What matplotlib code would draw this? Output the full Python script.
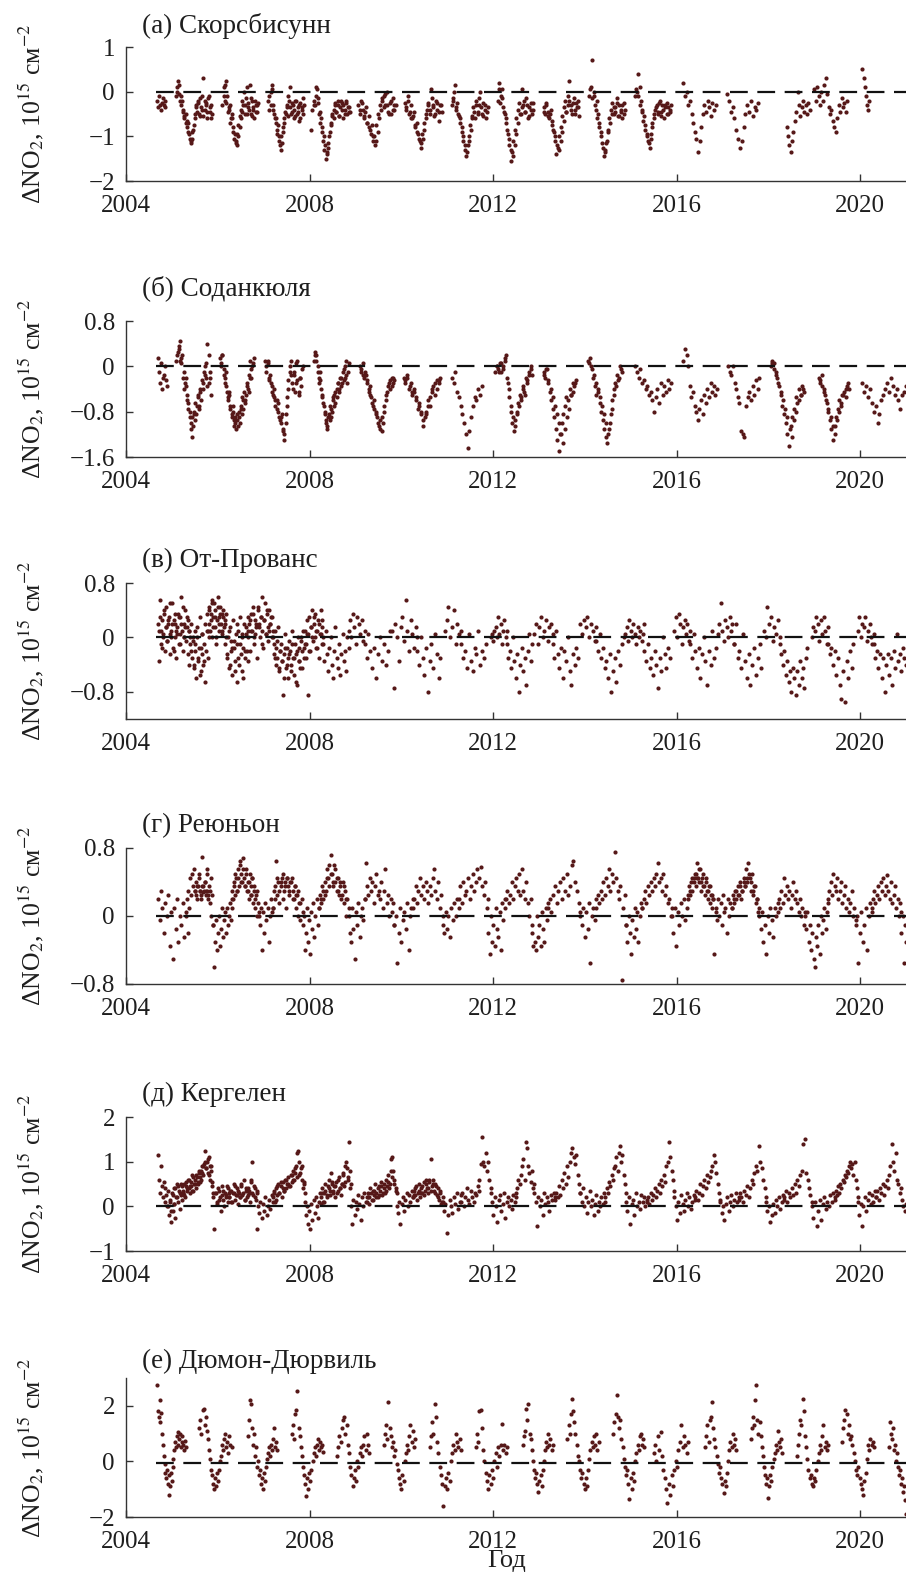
import numpy as np
import matplotlib
matplotlib.use('Agg')
import matplotlib.pyplot as plt

plt.rcParams['font.family'] = ['Liberation Serif', 'DejaVu Serif']
plt.rcParams['mathtext.fontset'] = 'stix'

# каждая станция: сезоны наблюдений (начало, конец) и значения внутри сезона
# (сезоны могут перекрываться - так передаётся плотность облака точек)

# (а) Скорсбисунн
sco_start = [2004.68, 2005.08, 2006.1, 2007.1, 2008.03, 2009.06, 2010.08, 2011.1, 2012.1,
             2013.1, 2014.1, 2015.1, 2016.15, 2017.1, 2018.4, 2019.0, 2020.05,
             2005.12, 2006.13, 2007.12, 2008.1, 2009.1, 2010.1, 2011.12, 2012.12, 2013.12,
             2014.12, 2015.12]
sco_end = [2004.86, 2005.88, 2006.88, 2007.88, 2008.88, 2009.88, 2010.88, 2011.88, 2012.88,
           2013.88, 2014.88, 2015.88, 2016.85, 2017.78, 2018.9, 2019.72, 2020.2,
           2005.86, 2006.86, 2007.86, 2008.86, 2009.85, 2010.86, 2011.86, 2012.86, 2013.86,
           2014.86, 2015.86]
sco_vals = [
    [-0.2, -0.35, -0.1, -0.3, -0.4, -0.25, -0.15, -0.3, -0.35, -0.2],
    [-0.1, 0.1, 0.25, -0.05, -0.3, -0.2, -0.45, -0.6, -0.5, -0.8, -0.7, -0.95, -1.15, -1.05, -0.85, -0.6,
     -0.3, -0.45, -0.2, -0.55, -0.35, -0.1, 0.3, -0.4, -0.25, -0.6, -0.15, -0.45, -0.3, -0.5],
    [-0.3, 0.1, -0.2, 0.25, -0.1, -0.4, -0.3, -0.6, -0.5, -0.8, -0.95, -1.1, -1.2, -1.0, -0.8, -0.6,
     -0.45, -0.3, -0.5, -0.15, 0.1, -0.35, 0.15, -0.5, -0.2, -0.4, -0.6, -0.3, -0.45, -0.25],
    [-0.2, -0.4, 0.0, 0.15, -0.3, -0.5, -0.6, -0.85, -0.75, -1.0, -1.3, -1.15, -0.9, -0.7, -0.5, -0.35,
     -0.55, -0.2, 0.1, -0.45, -0.3, -0.6, -0.2, -0.5, -0.35, -0.65, -0.25, -0.4, -0.5, -0.3],
    [-0.85, -0.4, -0.2, -0.3, 0.1, -0.15, -0.5, -0.7, -0.9, -1.1, -1.3, -1.5, -1.35, -1.15, -0.9, -0.7,
     -0.5, -0.6, -0.3, -0.45, -0.2, -0.55, -0.35, -0.25, -0.6, -0.4, -0.2, -0.5, -0.35, -0.45],
    [-0.3, -0.5, -0.2, -0.4, -0.6, -0.35, -0.7, -0.55, -0.85, -0.75, -1.0, -1.2, -1.1, -0.9, -0.6, -0.4,
     -0.2, -0.1, -0.3, 0.0, -0.45, -0.25, -0.5, -0.15, -0.4, -0.3],
    [-0.25, -0.4, -0.1, -0.5, -0.3, -0.6, -0.45, -0.8, -0.7, -0.95, -1.1, -1.25, -1.05, -0.85, -0.6, -0.4,
     -0.25, -0.5, 0.05, -0.3, -0.55, -0.2, -0.4, -0.65, -0.3, -0.45],
    [-0.3, -0.15, 0.15, -0.4, -0.25, -0.55, -0.7, -0.9, -1.1, -1.3, -1.45, -1.2, -1.0, -0.75, -0.55, -0.35,
     -0.6, -0.2, -0.45, -0.3, 0.0, -0.5, -0.25, -0.4, -0.6, -0.35],
    [-0.2, 0.2, -0.1, 0.05, -0.35, -0.5, -0.7, -0.95, -1.2, -1.55, -1.35, -1.1, -0.85, -0.6, -0.4, -0.25,
     -0.5, 0.05, -0.3, -0.45, -0.15, -0.6, -0.35, -0.25, -0.5, -0.4],
    [-0.35, -0.5, -0.25, -0.45, -0.6, -0.4, -0.75, -0.9, -1.1, -1.4, -1.25, -1.0, -0.8, -0.55, -0.35, -0.2,
     -0.45, -0.1, 0.25, -0.3, -0.5, -0.15, -0.4, -0.25, -0.35, -0.55],
    [-0.1, 0.1, 0.72, 0.0, -0.3, -0.2, -0.5, -0.7, -0.9, -1.15, -1.45, -1.3, -1.1, -0.85, -0.6, -0.4,
     -0.25, -0.5, -0.35, -0.15, -0.55, -0.3, -0.45, -0.6, -0.25, -0.4],
    [-0.1, 0.0, 0.4, 0.1, -0.2, -0.4, -0.55, -0.75, -0.95, -1.1, -1.25, -1.05, -0.8, -0.6, -0.4, -0.3,
     -0.5, -0.2, -0.45, -0.3, -0.6, -0.35, -0.25, -0.5, -0.4, -0.3],
    [0.2, -0.1, 0.0, -0.3, -0.2, -0.5, -0.7, -0.9, -1.05, -1.35, -1.1, -0.8, -0.5, -0.3, -0.45, -0.2,
     -0.35, -0.55, -0.25, -0.4, -0.3],
    [-0.05, -0.2, -0.45, -0.35, -0.6, -0.85, -1.05, -1.25, -1.1, -0.8, -0.5, -0.3, -0.45, -0.2, -0.55,
     -0.35, -0.4, -0.25],
    [-0.8, -1.0, -1.2, -1.35, -1.1, -0.9, -0.65, -0.45, 0.0, -0.3, -0.55, -0.35, -0.2, -0.45, -0.3, -0.5,
     -0.25, -0.4],
    [0.05, -0.2, 0.1, -0.1, -0.3, 0.0, -0.2, 0.15, 0.3, -0.05, -0.35, -0.5, -0.4, -0.65, -0.8, -0.9,
     -0.6, -0.3, -0.45, -0.15, -0.35, -0.25, -0.45, -0.2],
    [0.5, 0.3, 0.1, -0.1, -0.3, -0.4, -0.2],
    [0.0, 0.15, -0.2, -0.1, -0.4, -0.55, -0.7, -0.65, -0.9, -1.05, -1.1, -0.9, -0.75, -0.5, -0.35, -0.25,
     -0.5, -0.15, -0.4, -0.55, -0.2, -0.3, -0.45, -0.1, -0.35, -0.6],
    [-0.1, 0.15, -0.25, -0.45, -0.35, -0.7, -0.6, -0.9, -1.05, -1.15, -0.95, -0.75, -0.55, -0.4, -0.2, 0.0,
     -0.3, -0.5, -0.25, -0.4, -0.15, -0.55, -0.35, -0.2, -0.45, -0.3],
    [-0.1, -0.3, 0.05, -0.4, -0.6, -0.7, -0.95, -1.1, -1.2, -1.0, -0.8, -0.6, -0.45, -0.3, -0.1, -0.35,
     -0.5, -0.25, -0.4, -0.55, -0.2, -0.45, -0.3, -0.6, -0.35, -0.15],
    [-0.3, -0.1, 0.05, -0.25, -0.45, -0.6, -0.8, -1.0, -1.2, -1.4, -1.25, -1.0, -0.75, -0.55, -0.4, -0.25,
     -0.45, -0.3, -0.55, -0.2, -0.4, -0.3, -0.5, -0.25, -0.35, -0.45],
    [-0.4, -0.25, -0.55, -0.45, -0.7, -0.8, -0.95, -1.1, -1.0, -0.75, -0.5, -0.3, -0.15, -0.35, -0.05,
     -0.3, -0.5, -0.2, -0.4, -0.3],
    [-0.35, -0.2, -0.45, -0.6, -0.55, -0.75, -0.9, -1.05, -1.15, -0.95, -0.7, -0.5, -0.3, -0.4, -0.15,
     -0.35, -0.5, -0.25, -0.45, -0.3],
    [-0.2, 0.0, -0.35, -0.5, -0.6, -0.8, -1.0, -1.2, -1.35, -1.1, -0.85, -0.6, -0.45, -0.3, -0.5, -0.15,
     -0.35, -0.55, -0.3, -0.45],
    [0.05, -0.25, -0.15, -0.45, -0.6, -0.85, -1.05, -1.3, -1.45, -1.2, -0.95, -0.7, -0.5, -0.35, -0.2,
     -0.45, -0.3, -0.55, -0.4, -0.25],
    [-0.45, -0.3, -0.55, -0.5, -0.65, -0.85, -1.0, -1.2, -1.3, -1.1, -0.9, -0.65, -0.45, -0.3, -0.2, -0.4,
     -0.25, -0.5, -0.35, -0.2],
    [0.05, -0.15, -0.1, -0.4, -0.6, -0.8, -1.0, -1.25, -1.35, -1.15, -0.9, -0.7, -0.5, -0.35, -0.45,
     -0.25, -0.55, -0.4, -0.3, -0.5],
    [0.05, -0.1, -0.3, -0.45, -0.65, -0.85, -1.0, -1.15, -0.95, -0.7, -0.5, -0.35, -0.45, -0.25, -0.55,
     -0.4, -0.3, -0.5, -0.35, -0.45],
]

# (б) Соданкюля
sod_start = [2004.7, 2005.1, 2006.05, 2007.03, 2008.1, 2009.1, 2010.05, 2011.1, 2012.05,
             2013.1, 2014.08, 2015.1, 2016.15, 2017.12, 2018.05, 2019.1, 2020.05,
             2005.12, 2006.07, 2007.06, 2008.12, 2009.12, 2010.08, 2012.08, 2013.12, 2014.1,
             2018.07, 2019.12]
sod_end = [2004.9, 2005.85, 2006.78, 2007.85, 2008.85, 2009.85, 2010.85, 2011.75, 2012.85,
           2013.8, 2014.8, 2015.88, 2016.88, 2017.8, 2018.78, 2019.75, 2021.0,
           2005.83, 2006.76, 2007.83, 2008.83, 2009.83, 2010.83, 2012.83, 2013.78, 2014.78,
           2018.76, 2019.73]
sod_vals = [
    [0.15, -0.1, -0.3, 0.05, -0.4, -0.2, -0.15, 0.0, -0.25, -0.35],
    [0.1, 0.25, 0.3, 0.45, 0.15, 0.2, -0.1, -0.3, -0.2, -0.5, -0.65, -0.8, -1.0, -1.25, -1.05, -0.85,
     -0.95, -0.7, -0.55, -0.75, -0.4, -0.6, -0.3, -0.1, 0.0, -0.2, 0.4, -0.3, -0.1, -0.5],
    [0.15, 0.0, 0.2, -0.15, -0.3, -0.1, -0.45, -0.6, -0.5, -0.75, -0.9, -0.8, -1.05, -0.9, -1.1, -0.95,
     -0.8, -1.0, -0.7, -0.55, -0.75, -0.45, -0.6, -0.3, -0.4, -0.15, 0.1, -0.2, 0.0, 0.15],
    [0.1, -0.1, 0.05, -0.25, -0.15, -0.35, -0.5, -0.4, -0.6, -0.75, -0.65, -0.9, -1.0, -0.85, -1.15, -1.3,
     -1.0, -0.7, -0.4, -0.1, 0.1, -0.3, -0.15, -0.45, 0.05, -0.25, -0.5, -0.2, -0.35, 0.0],
    [0.1, 0.25, 0.2, 0.0, -0.2, -0.1, -0.4, -0.55, -0.7, -0.85, -1.0, -1.1, -0.9, -0.95, -0.75, -0.8,
     -0.6, -0.5, -0.65, -0.4, -0.3, -0.45, -0.2, -0.35, -0.1, -0.25, 0.0, -0.15, -0.3, 0.05],
    [0.0, -0.1, 0.05, -0.2, -0.15, -0.3, -0.45, -0.35, -0.55, -0.7, -0.6, -0.8, -0.9, -1.05, -0.95, -1.15,
     -1.0, -0.8, -0.6, -0.45, -0.3, -0.4, -0.2, -0.3, -0.25],
    [-0.2, -0.3, -0.15, -0.4, -0.3, -0.5, -0.45, -0.6, -0.75, -0.65, -0.85, -1.05, -0.9, -0.8, -0.6, -0.7,
     -0.45, -0.35, -0.5, -0.25, -0.3, -0.2],
    [-0.2, -0.3, -0.1, -0.45, -0.55, -0.7, -0.85, -1.0, -1.2, -1.45, -1.15, -0.9, -0.7, -0.55, -0.6, -0.4,
     -0.5, -0.35],
    [-0.1, 0.0, -0.05, 0.05, -0.1, 0.0, 0.1, 0.2, -0.3, -0.55, -0.8, -1.0, -1.15, -0.95, -0.8, -0.65,
     -0.5, -0.6, -0.35, -0.45, -0.2, -0.3, -0.1, 0.0, -0.15],
    [-0.1, -0.2, -0.05, -0.3, -0.45, -0.6, -0.75, -0.9, -1.1, -1.3, -1.5, -1.2, -1.0, -0.85, -0.7, -0.55,
     -0.6, -0.4, -0.5, -0.3, -0.35, -0.25],
    [0.1, 0.15, -0.05, -0.2, -0.35, -0.5, -0.45, -0.65, -0.8, -0.95, -1.1, -1.25, -1.35, -1.1, -0.85, -0.6,
     -0.4, -0.3, -0.15, -0.25, 0.0, -0.1],
    [0.0, -0.1, -0.2, -0.05, -0.3, -0.25, -0.4, -0.35, -0.5, -0.45, -0.6, -0.8, -0.55, -0.4, -0.65, -0.3,
     -0.5, -0.35, -0.45, -0.25, -0.4, -0.3],
    [0.1, 0.3, 0.2, 0.0, -0.35, -0.55, -0.45, -0.7, -0.8, -0.95, -0.75, -0.6, -0.85, -0.5, -0.65, -0.4,
     -0.55, -0.3, -0.45, -0.35, -0.5, -0.4],
    [0.0, -0.1, -0.15, 0.0, -0.3, -0.4, -0.55, -0.65, -1.15, -1.2, -1.25, -0.7, -0.55, -0.45, -0.6, -0.35,
     -0.5, -0.25, -0.4, -0.2],
    [0.0, 0.1, 0.05, -0.1, -0.2, -0.35, -0.5, -0.7, -0.85, -1.0, -1.2, -1.4, -1.05, -0.9, -0.75, -0.55,
     -0.65, -0.4, -0.5, -0.35, -0.45],
    [-0.2, -0.3, -0.15, -0.4, -0.5, -0.65, -0.8, -0.95, -1.1, -1.3, -1.05, -0.9, -0.75, -0.6, -0.7, -0.5,
     -0.45, -0.55, -0.35, -0.4],
    [-0.3, -0.45, -0.35, -0.55, -0.4, -0.65, -0.8, -0.7, -1.0, -0.85, -0.6, -0.5, -0.4, -0.3, -0.45, -0.2,
     -0.35, -0.5, -0.4, -0.6, -0.75, -0.5, -0.45, -0.35],
    [0.2, 0.35, 0.1, 0.05, -0.2, -0.4, -0.35, -0.6, -0.75, -0.9, -1.1, -0.9, -0.8, -0.65, -0.85, -0.5,
     -0.7, -0.45, -0.25, -0.4, -0.15, 0.05, -0.35, 0.2, -0.2],
    [0.05, 0.2, -0.05, -0.2, -0.35, -0.55, -0.45, -0.7, -0.85, -0.7, -0.95, -1.0, -0.85, -1.05, -0.9, -0.75,
     -0.85, -0.6, -0.65, -0.5, -0.35, -0.45, -0.2, -0.05, 0.05],
    [0.0, 0.1, -0.2, -0.3, -0.45, -0.55, -0.7, -0.6, -0.8, -0.95, -0.9, -1.1, -1.2, -0.85, -0.55, -0.25,
     0.0, -0.15, -0.4, -0.1, -0.3, 0.1, -0.45, -0.2, -0.05],
    [0.2, 0.1, -0.1, -0.3, -0.25, -0.5, -0.65, -0.8, -0.95, -1.05, -0.85, -0.7, -0.9, -0.55, -0.7, -0.45,
     -0.55, -0.3, -0.4, -0.2, -0.3, -0.05, -0.2, 0.1, -0.1],
    [-0.05, -0.15, -0.1, -0.25, -0.4, -0.5, -0.65, -0.75, -0.85, -1.0, -1.1, -0.9, -0.7, -0.5, -0.35,
     -0.25, -0.35, -0.2],
    [-0.25, -0.2, -0.35, -0.45, -0.4, -0.55, -0.7, -0.8, -0.95, -0.85, -0.7, -0.55, -0.4, -0.3, -0.4, -0.25],
    [0.0, -0.1, 0.05, -0.05, 0.15, -0.2, -0.4, -0.7, -0.9, -1.05, -0.85, -0.7, -0.55, -0.4, -0.5, -0.25,
     -0.15, -0.05],
    [-0.15, -0.05, -0.25, -0.4, -0.55, -0.7, -0.85, -1.0, -1.2, -1.35, -1.1, -0.9, -0.75, -0.5, -0.45, -0.3],
    [0.05, 0.0, -0.15, -0.3, -0.4, -0.55, -0.7, -0.85, -1.0, -1.2, -1.0, -0.75, -0.5, -0.35, -0.2, -0.05],
    [0.05, -0.05, -0.15, -0.3, -0.45, -0.6, -0.75, -0.9, -1.1, -1.25, -0.95, -0.8, -0.6, -0.5, -0.4],
    [-0.25, -0.35, -0.45, -0.6, -0.75, -0.9, -1.05, -1.2, -0.95, -0.8, -0.65, -0.5, -0.4, -0.3],
]

# (в) От-Прованс
ohp_start = [2004.7, 2005.4, 2005.8, 2006.15, 2006.65, 2007.2, 2007.9, 2008.3, 2008.85, 2009.2, 2009.8,
             2010.35, 2010.95, 2011.3, 2011.95, 2012.3, 2012.9, 2013.3, 2013.9, 2014.25, 2014.85, 2015.3,
             2015.95, 2016.3, 2016.9, 2017.25, 2017.9, 2018.25, 2018.95, 2019.3, 2019.95, 2020.3,
             2004.72, 2005.42, 2006.17, 2007.22]
ohp_end = [2005.4, 2005.8, 2006.15, 2006.65, 2007.2, 2007.9, 2008.3, 2008.85, 2009.2, 2009.75, 2010.35,
           2010.85, 2011.3, 2011.85, 2012.3, 2012.85, 2013.3, 2013.85, 2014.25, 2014.8, 2015.3, 2015.85,
           2016.3, 2016.85, 2017.25, 2017.85, 2018.25, 2018.85, 2019.3, 2019.85, 2020.3, 2021.0,
           2005.38, 2006.12, 2007.18, 2008.28]
ohp_vals = [
    [0.2, -0.35, 0.55, 0.1, -0.1, 0.25, 0.0, 0.35, -0.2, 0.15, 0.45, -0.05, 0.2, 0.3, -0.25, 0.05, 0.1,
     0.5, -0.15, 0.25, 0.0, 0.2, -0.3, 0.15, 0.35, -0.1, 0.05, 0.3, 0.6, 0.1, -0.2, 0.2, 0.0, 0.4, -0.05,
     0.15, 0.25, -0.4, 0.1, 0.0],
    [-0.1, 0.2, -0.3, -0.05, -0.45, 0.1, -0.2, -0.6, 0.0, -0.35, -0.15, 0.3, -0.5, -0.25, 0.05, -0.4,
     -0.1, -0.65, -0.2, 0.1, -0.3, 0.0],
    [0.2, 0.45, 0.1, 0.35, 0.55, 0.0, 0.3, 0.5, 0.15, 0.4, -0.1, 0.25, 0.6, 0.3, 0.1, 0.45, 0.2, 0.35,
     0.05, 0.4, 0.15, 0.25],
    [0.2, -0.1, 0.35, -0.3, 0.0, -0.45, 0.15, -0.2, -0.05, -0.55, 0.25, -0.15, -0.35, 0.05, -0.65, -0.1,
     0.1, -0.4, 0.3, -0.25, 0.0, -0.5, -0.15, 0.2, -0.3, 0.05, -0.2, 0.1],
    [0.3, 0.0, 0.2, -0.2, 0.35, 0.1, 0.45, -0.1, 0.25, 0.05, 0.15, -0.3, 0.4, 0.2, 0.0, 0.3, 0.6, 0.1,
     -0.15, 0.25, 0.5, 0.05, 0.35, 0.15, -0.05, 0.4, 0.2, 0.3, 0.0, 0.1],
    [0.0, -0.25, 0.1, -0.4, -0.15, -0.3, 0.15, -0.5, -0.2, -0.1, -0.35, -0.85, -0.25, 0.05, -0.45, -0.15,
     -0.3, -0.6, -0.05, -0.2, -0.4, 0.1, -0.3, -0.55, -0.1, -0.25, -0.7, 0.0, -0.35, -0.15, -0.45, -0.05,
     -0.2, 0.1, -0.3, -0.1],
    [0.1, -0.1, 0.25, -0.85, 0.05, 0.3, -0.2, 0.15, 0.4, -0.05, 0.2, 0.0, 0.35, -0.15, 0.1, 0.25, -0.3,
     0.05, 0.4, 0.15, -0.1, 0.0],
    [-0.1, -0.35, 0.1, -0.25, -0.5, -0.15, 0.0, -0.4, -0.6, -0.2, 0.15, -0.3, -0.45, -0.1, -0.55, -0.25,
     0.05, -0.35, -0.2, -0.5, 0.0, -0.15],
    [0.1, 0.25, 0.0, 0.35, 0.15, -0.1, 0.3, 0.2, 0.05, 0.25, -0.05, 0.1],
    [-0.1, -0.3, 0.05, -0.2, -0.45, -0.15, -0.6, -0.25, 0.0, -0.35, -0.1, -0.4, -0.2, 0.1],
    [0.1, -0.75, 0.2, 0.0, -0.35, 0.15, 0.3, -0.05, 0.55, 0.1, -0.2, 0.25, 0.05, -0.15, 0.15, 0.0],
    [-0.2, -0.4, 0.0, -0.3, -0.55, -0.15, -0.8, -0.35, -0.1, -0.45, 0.05, -0.25, -0.6, -0.3],
    [0.1, 0.25, 0.45, 0.0, 0.15, 0.4, -0.1, 0.2, 0.05, 0.1],
    [-0.1, -0.3, -0.2, -0.45, 0.05, -0.35, -0.5, -0.15, -0.25, 0.1, -0.4, -0.2, -0.3, -0.1],
    [0.0, 0.05, -0.05, 0.1, 0.15, 0.0, 0.3, 0.05, 0.2, -0.1, 0.1, 0.25, 0.0, 0.1],
    [-0.1, -0.3, -0.2, -0.45, 0.0, -0.35, -0.6, -0.25, -0.8, -0.4, -0.15, -0.5, -0.3, -0.7, -0.2, 0.05,
     -0.35, -0.1],
    [0.05, 0.2, -0.1, 0.15, 0.3, 0.0, 0.1, 0.25, -0.05, 0.15, 0.2, 0.05],
    [-0.1, -0.3, 0.1, -0.25, -0.45, -0.15, -0.6, -0.2, -0.35, 0.0, -0.5, -0.7, -0.25, -0.4, -0.15, -0.3],
    [0.2, 0.05, 0.25, 0.15, 0.3, 0.0, 0.2, 0.1, -0.05, 0.15],
    [-0.05, -0.2, 0.05, -0.3, -0.15, -0.45, -0.35, -0.6, -0.25, -0.8, -0.5, -0.3, -0.65, -0.2, -0.4, -0.1],
    [0.0, 0.05, 0.15, -0.05, 0.25, 0.1, 0.0, 0.2, 0.05, -0.1, 0.15, 0.0, 0.1, -0.05, 0.05, 0.2],
    [-0.2, -0.35, -0.1, -0.45, -0.3, -0.55, -0.2, -0.4, -0.75, -0.3, -0.5, 0.0, -0.25, -0.45, -0.15, -0.3],
    [0.1, 0.3, 0.0, 0.35, 0.2, -0.1, 0.15, 0.25, 0.05, 0.2, -0.05, 0.1],
    [-0.1, -0.3, 0.05, -0.2, -0.45, -0.15, -0.6, -0.25, 0.0, -0.35, -0.7, -0.2, -0.4, 0.1, -0.3, -0.15],
    [0.05, 0.2, 0.5, 0.1, -0.05, 0.25, 0.15, 0.0, 0.3, 0.1, 0.2, -0.1],
    [-0.1, 0.2, -0.3, -0.2, -0.45, 0.05, -0.35, -0.6, -0.25, -0.7, -0.4, -0.15, -0.55, -0.3, -0.1, -0.45],
    [0.1, 0.0, 0.45, 0.2, 0.3, -0.05, 0.15, 0.05, 0.25, 0.0],
    [-0.1, -0.25, -0.4, -0.2, -0.55, -0.35, -0.65, -0.5, -0.8, -0.45, -0.6, -0.85, -0.5, -0.7, -0.35,
     -0.6, -0.45, -0.75, -0.3, -0.15],
    [0.0, 0.15, 0.1, 0.3, 0.2, -0.05, 0.25, 0.05, 0.3, 0.1, -0.1, 0.15],
    [-0.1, -0.25, -0.15, -0.4, -0.2, -0.55, -0.3, -0.7, -0.9, -0.5, -0.95, -0.35, -0.6, -0.2, -0.45, -0.1],
    [0.1, 0.3, 0.0, 0.2, 0.15, 0.3, -0.05, 0.1, 0.2, 0.0, -0.1, 0.05],
    [-0.1, -0.3, -0.2, -0.45, -0.25, -0.6, -0.3, -0.8, -0.4, -0.25, -0.55, -0.3, -0.7, -0.2, -0.45, 0.05,
     -0.35, -0.25, -0.5, -0.15, -0.3, -0.4],
    [0.1, 0.3, -0.15, 0.05, 0.4, 0.15, -0.05, 0.25, 0.5, 0.0, 0.2, -0.2, 0.35, 0.1, 0.05, 0.3, -0.1,
     0.2, 0.45, 0.0, 0.15, 0.3, -0.25, 0.1],
    [-0.2, 0.0, -0.4, -0.1, 0.15, -0.3, -0.55, -0.15, 0.05, -0.35, 0.2, 0.35, 0.1, 0.4, 0.25, 0.5, 0.15,
     0.3, 0.0, 0.45, 0.2, 0.35, 0.1, 0.3],
    [0.0, -0.25, 0.1, -0.4, -0.15, -0.05, -0.5, 0.2, -0.3, -0.1, 0.05, -0.6, -0.2, 0.15, -0.35, 0.25,
     0.1, 0.35, 0.0, 0.2, 0.45, 0.15, 0.3, -0.1, 0.25, 0.05, 0.4, 0.1, 0.2, 0.3],
    [-0.1, -0.3, -0.05, -0.45, -0.2, -0.35, -0.6, -0.15, -0.4, -0.25, -0.5, -0.1, -0.3, -0.65, -0.2,
     -0.35, 0.0, -0.45, -0.15, -0.3, 0.05, -0.2, 0.15, 0.0, 0.3, 0.1, -0.15, 0.2, 0.05, 0.25],
]

# (г) Реюньон
reu_start = [2004.7, 2005.3, 2005.9, 2006.3, 2006.9, 2007.2, 2007.85, 2008.2, 2008.85, 2009.2, 2009.85,
             2010.25, 2010.9, 2011.25, 2011.9, 2012.25, 2012.85, 2013.2, 2013.9, 2014.25, 2014.9, 2015.25,
             2015.9, 2016.25, 2016.85, 2017.2, 2017.8, 2018.2, 2018.8, 2019.3, 2019.9, 2020.25, 2020.9,
             2005.5, 2006.35, 2007.25, 2008.25, 2016.3, 2017.25]
reu_end = [2005.3, 2005.9, 2006.3, 2006.9, 2007.2, 2007.85, 2008.2, 2008.85, 2009.2, 2009.85, 2010.25,
           2010.9, 2011.25, 2011.9, 2012.25, 2012.85, 2013.2, 2013.9, 2014.25, 2014.9, 2015.25, 2015.9,
           2016.25, 2016.85, 2017.2, 2017.8, 2018.2, 2018.8, 2019.3, 2019.9, 2020.25, 2020.9, 2021.0,
           2005.85, 2006.85, 2007.8, 2008.8, 2016.8, 2017.75]
reu_vals = [
    [0.2, -0.05, 0.3, 0.1, -0.2, 0.15, 0.0, 0.25, -0.35, 0.05, -0.5, 0.1, -0.15, 0.2, -0.3, 0.0, -0.1,
     0.15, -0.25, 0.05],
    [0.0, 0.2, -0.2, 0.3, 0.1, 0.45, 0.25, 0.5, 0.35, 0.55, 0.3, 0.4, 0.2, 0.35, 0.45, 0.3, 0.25, 0.7,
     0.35, 0.3, 0.4, 0.25, 0.5, 0.3, 0.2, 0.35, 0.15, 0.0, 0.25, -0.1],
    [-0.1, -0.6, -0.3, -0.05, -0.4, -0.2, 0.0, -0.35, -0.15, 0.1, -0.25, -0.05, 0.05, -0.2, 0.1, -0.1,
     0.0, 0.15, -0.05, 0.2],
    [0.1, 0.3, 0.2, 0.4, 0.25, 0.45, 0.3, 0.55, 0.35, 0.65, 0.5, 0.4, 0.68, 0.45, 0.35, 0.55, 0.3, 0.4,
     0.2, 0.5, 0.35, 0.25, 0.45, 0.15, 0.3, 0.1, 0.25, 0.0, 0.15, 0.05],
    [0.0, -0.1, 0.1, -0.4, 0.05, -0.2, 0.15, -0.05, 0.1, -0.3, 0.0, 0.2, 0.05, 0.1],
    [0.1, 0.3, 0.2, 0.65, 0.25, 0.4, 0.15, 0.35, 0.45, 0.2, 0.3, 0.4, 0.1, 0.45, 0.35, 0.25, 0.4, 0.45,
     0.3, 0.2, 0.35, 0.1, 0.25, 0.0, 0.15, -0.05, 0.2, 0.05],
    [-0.1, 0.0, -0.4, -0.2, 0.1, -0.3, -0.05, -0.45, 0.05, -0.15, 0.15, -0.25, 0.0, 0.2, -0.1, 0.1],
    [0.1, 0.25, 0.15, 0.35, 0.2, 0.4, 0.3, 0.55, 0.45, 0.6, 0.72, 0.5, 0.35, 0.6, 0.4, 0.3, 0.45, 0.25,
     0.35, 0.2, 0.4, 0.15, 0.3, 0.0, 0.2, 0.1],
    [0.0, -0.2, -0.3, 0.1, -0.15, -0.5, 0.05, -0.1, 0.15, -0.25, 0.0, 0.1, -0.05, 0.2],
    [0.2, 0.62, 0.35, 0.25, 0.45, 0.3, 0.4, 0.15, 0.35, 0.5, 0.25, 0.3, 0.2, 0.4, 0.1, 0.3, 0.55, 0.15,
     0.25, 0.0, 0.2, 0.05, 0.15, -0.1],
    [-0.1, 0.0, -0.55, -0.2, 0.1, -0.3, -0.05, 0.05, -0.15, 0.15, -0.4, 0.0, 0.1, 0.2],
    [0.1, 0.2, 0.35, 0.15, 0.3, 0.45, 0.25, 0.35, 0.2, 0.4, 0.3, 0.15, 0.35, 0.25, 0.45, 0.55, 0.3, 0.2,
     0.4, 0.1, 0.25, 0.0],
    [-0.1, -0.2, 0.05, -0.15, 0.0, -0.25, 0.1, -0.05, 0.15, 0.0, 0.2, 0.1],
    [0.2, 0.35, 0.15, 0.4, 0.25, 0.3, 0.45, 0.2, 0.35, 0.5, 0.3, 0.4, 0.55, 0.45, 0.58, 0.35, 0.25, 0.4,
     0.1, 0.2],
    [-0.2, -0.45, 0.0, -0.3, -0.1, -0.35, 0.1, -0.15, -0.25, 0.05, -0.4, 0.15, -0.05, 0.2],
    [0.1, 0.2, 0.3, 0.15, 0.25, 0.4, 0.2, 0.35, 0.45, 0.3, 0.5, 0.25, 0.55, 0.3, 0.2, 0.4, 0.15, 0.0,
     0.2, -0.1],
    [-0.2, -0.35, -0.3, -0.4, 0.0, -0.25, -0.1, -0.35, 0.05, -0.15, -0.3, 0.1, -0.05, 0.15],
    [0.1, 0.2, 0.05, 0.25, 0.35, 0.15, 0.3, 0.4, 0.2, 0.45, 0.3, 0.5, 0.25, 0.35, 0.6, 0.65, 0.4, 0.3,
     0.15, 0.05],
    [0.0, -0.1, 0.1, -0.25, 0.05, -0.15, 0.15, -0.55, 0.0, 0.1, -0.05, 0.2],
    [0.1, 0.25, 0.15, 0.3, 0.2, 0.4, 0.25, 0.45, 0.35, 0.55, 0.3, 0.5, 0.4, 0.75, 0.45, 0.3, 0.2, 0.35,
     -0.75, 0.1, 0.25, -0.1],
    [-0.1, -0.3, 0.0, -0.2, -0.45, -0.05, -0.25, 0.1, -0.15, 0.05, -0.3, 0.0, 0.15, 0.1],
    [0.1, 0.2, 0.3, 0.15, 0.35, 0.25, 0.4, 0.3, 0.45, 0.35, 0.5, 0.62, 0.4, 0.45, 0.3, 0.5, 0.25, 0.35,
     0.15, 0.2, 0.0, 0.1],
    [0.0, -0.2, 0.1, -0.35, 0.05, -0.1, 0.15, 0.0, 0.2, -0.05, 0.1, 0.25],
    [0.2, 0.35, 0.25, 0.4, 0.3, 0.45, 0.5, 0.35, 0.62, 0.45, 0.4, 0.55, 0.3, 0.45, 0.35, 0.25, 0.4, 0.3,
     0.2, 0.35, 0.15, 0.25, 0.1, 0.2, -0.45, 0.05],
    [0.1, -0.05, 0.2, 0.0, 0.15, -0.1, 0.25, 0.05, 0.1, -0.2, 0.2, 0.0, 0.15, 0.1],
    [0.1, 0.25, 0.15, 0.3, 0.2, 0.35, 0.25, 0.4, 0.2, 0.3, 0.45, 0.35, 0.55, 0.4, 0.62, 0.45, 0.3, 0.5,
     0.25, 0.35, 0.15, 0.2, 0.05, 0.1],
    [0.0, -0.15, 0.05, -0.3, -0.1, -0.45, 0.0, -0.2, 0.1, -0.05, -0.25, 0.1, 0.0, 0.15],
    [0.05, 0.2, 0.1, 0.3, 0.15, 0.45, 0.25, 0.35, 0.2, 0.3, 0.1, 0.25, 0.4, 0.2, 0.3, 0.15, 0.05, 0.2,
     0.0, 0.1, -0.1, 0.05],
    [0.0, -0.15, 0.05, -0.3, -0.1, -0.4, -0.2, -0.5, -0.6, -0.25, -0.35, -0.1, -0.45, 0.0, -0.2, -0.05,
     0.1, -0.15, 0.05, 0.15],
    [0.2, 0.3, 0.4, 0.25, 0.5, 0.35, 0.3, 0.45, 0.2, 0.3, 0.4, 0.15, 0.25, 0.35, 0.1, 0.2, 0.05, 0.15,
     0.3, 0.0, 0.1, -0.05],
    [-0.1, 0.0, -0.55, -0.2, 0.05, -0.3, -0.1, 0.1, -0.4, 0.0, 0.15, 0.05],
    [0.1, 0.2, 0.3, 0.15, 0.25, 0.35, 0.2, 0.4, 0.3, 0.45, 0.25, 0.35, 0.48, 0.3, 0.2, 0.4, 0.15, 0.25,
     0.35, 0.1, 0.2, 0.0, 0.15, 0.05],
    [-0.2, 0.0, -0.55, -0.1, -0.3],
    [0.3, 0.25, 0.35, 0.5, 0.3, 0.2, 0.35, 0.28, 0.4, 0.3, 0.55, 0.25, 0.3, 0.45],
    [0.35, 0.5, 0.3, 0.45, 0.6, 0.4, 0.55, 0.35, 0.5, 0.3, 0.4, 0.25, 0.45, 0.35, 0.2, 0.3],
    [0.35, 0.45, 0.3, 0.4, 0.5, 0.35, 0.45, 0.3, 0.4, 0.2, 0.35, 0.25, 0.3, 0.15],
    [0.2, 0.3, 0.25, 0.45, 0.35, 0.5, 0.4, 0.55, 0.45, 0.3, 0.4, 0.25, 0.35, 0.2],
    [0.3, 0.45, 0.4, 0.5, 0.45, 0.55, 0.4, 0.5, 0.35, 0.45, 0.3, 0.35, 0.25, 0.2],
    [0.2, 0.3, 0.25, 0.35, 0.3, 0.4, 0.35, 0.45, 0.5, 0.4, 0.3, 0.35, 0.2],
]

# (д) Кергелен
ker_start = [2004.7, 2004.92, 2005.25, 2005.9, 2006.25, 2006.85, 2007.2, 2007.9, 2008.25, 2008.9, 2009.25,
             2009.9, 2010.25, 2010.9, 2011.3, 2011.7, 2011.95, 2012.5, 2012.9, 2013.35, 2013.9, 2014.45,
             2014.9, 2015.35, 2015.95, 2016.4, 2016.95, 2017.35, 2017.95, 2018.35, 2018.95, 2019.45,
             2019.95, 2020.35, 2004.95, 2005.95, 2007.22, 2008.27, 2009.27, 2010.27]
ker_end = [2004.92, 2005.25, 2005.9, 2006.25, 2006.85, 2007.2, 2007.9, 2008.25, 2008.9, 2009.25, 2009.9,
           2010.25, 2010.9, 2011.3, 2011.7, 2011.95, 2012.5, 2012.9, 2013.35, 2013.9, 2014.45, 2014.9,
           2015.35, 2015.95, 2016.4, 2016.95, 2017.35, 2017.95, 2018.35, 2018.95, 2019.45, 2019.95,
           2020.35, 2021.0, 2005.88, 2006.85, 2007.88, 2008.88, 2009.88, 2010.88]
ker_vals = [
    [1.15, 0.6, 0.3, 0.9, 0.45, 0.2, 0.55, 0.1, 0.4, 0.25, 0.0, 0.35],
    [0.0, -0.2, 0.15, -0.35, 0.3, -0.1, 0.05, 0.4, -0.25, 0.2, 0.5, 0.1, 0.35, -0.05, 0.25, 0.45, 0.15, 0.3],
    [0.3, 0.5, 0.2, 0.45, 0.35, 0.6, 0.4, 0.3, 0.55, 0.45, 0.7, 0.35, 0.5, 0.6, 0.4, 0.65, 0.5, 0.75,
     0.55, 0.8, 0.6, 0.9, 0.7, 0.95, 1.25, 0.85, 1.0, 0.75, 1.1, 0.9, 0.6, 0.8, 0.45, 0.3],
    [0.2, -0.5, 0.3, 0.05, 0.4, 0.15, -0.1, 0.25, 0.35, 0.0, 0.2, 0.45, 0.1, 0.3],
    [0.2, 0.35, 0.1, 0.3, 0.5, 0.15, 0.25, 0.4, 0.05, 0.3, 0.2, 0.45, 0.25, 0.6, 0.15, 0.35, 0.2, 0.4,
     0.3, 0.1, 0.55, 1.0, 0.25, 0.4, 0.15, 0.3],
    [-0.5, 0.0, -0.15, 0.1, -0.25, 0.05, -0.1, 0.2, -0.2, 0.0, 0.15, -0.05, 0.25, 0.1],
    [0.2, 0.35, 0.1, 0.4, 0.25, 0.5, 0.3, 0.45, 0.2, 0.55, 0.35, 0.6, 0.4, 0.5, 0.65, 0.45, 0.7, 0.55,
     0.8, 0.6, 0.75, 0.9, 1.2, 1.25, 0.7, 0.85, 0.6, 0.4, 0.55, 0.3],
    [0.1, -0.2, 0.0, -0.4, -0.1, -0.5, 0.05, -0.3, 0.15, -0.15, 0.2, 0.0, -0.25, 0.1, 0.3, 0.05],
    [0.2, 0.4, 0.1, 0.3, 0.5, 0.25, 0.45, 0.6, 0.35, 0.75, 0.5, 0.3, 0.45, 0.2, 0.55, 0.35, 0.65, 0.4,
     0.25, 0.5, 0.7, 0.45, 0.9, 1.0, 0.6, 1.45, 0.8, 0.5],
    [0.0, -0.4, 0.15, -0.2, 0.1, -0.05, 0.25, 0.05, -0.3, 0.2, 0.0, 0.3, 0.1, 0.2],
    [0.1, 0.3, 0.2, 0.4, 0.15, 0.35, 0.25, 0.5, 0.3, 0.2, 0.45, 0.35, 0.55, 0.25, 0.4, 0.3, 0.6, 0.45,
     0.7, 0.5, 1.05, 1.1, 0.8, 0.6, 0.4, 0.3],
    [0.0, -0.15, 0.1, -0.4, 0.05, 0.2, -0.1, 0.15, 0.3, 0.0, 0.25, 0.1, 0.35, 0.2],
    [0.2, 0.35, 0.25, 0.45, 0.3, 0.5, 0.2, 0.4, 0.3, 0.55, 0.35, 0.6, 0.4, 0.3, 0.55, 1.05, 0.45, 0.6,
     0.35, 0.5, 0.25, 0.4, 0.15, 0.3, 0.05, 0.2],
    [0.1, -0.1, 0.05, -0.6, -0.2, 0.15, 0.0, -0.15, 0.2, 0.05, 0.3, -0.05, 0.1, 0.25],
    [0.1, 0.3, 0.0, 0.2, 0.4, 0.15, 0.05, 0.35, 0.2, 0.1, 0.3, 0.25, 0.45, 0.35],
    [0.6, 0.95, 1.55, 1.0, 0.9, 1.2, 0.8, 1.0, 0.6, 0.4],
    [0.3, 0.1, -0.2, 0.2, 0.0, -0.35, 0.15, 0.25, -0.1, 0.05, 0.3, -0.25, 0.1, 0.2, 0.0, 0.15, -0.05,
     0.25, 0.1, 0.3],
    [0.2, 0.4, 0.6, 0.5, 0.7, 0.9, 1.05, 0.6, 1.45, 1.3, 0.9, 0.75, 0.55, 0.8, 0.4, 0.5],
    [0.3, 0.1, -0.45, 0.2, 0.0, 0.15, -0.2, 0.3, 0.05, 0.2, 0.1, -0.1, 0.25, 0.15, 0.3, 0.2],
    [0.15, 0.3, 0.2, 0.45, 0.25, 0.6, 0.4, 0.75, 0.5, 0.9, 0.65, 1.0, 1.2, 1.3, 1.1, 0.95, 1.15, 0.7,
     0.5, 0.3],
    [0.3, 0.1, 0.4, 0.0, 0.2, -0.15, 0.1, 0.35, 0.0, 0.15, -0.2, 0.05, 0.25, -0.1, 0.1, 0.0, 0.2, 0.05,
     0.3, 0.1],
    [0.2, 0.4, 0.3, 0.55, 0.45, 0.7, 0.6, 0.85, 0.9, 1.1, 0.8, 1.2, 1.35, 1.0, 1.15, 0.7, 0.5, 0.3],
    [0.1, -0.1, 0.2, -0.4, 0.05, 0.15, -0.2, 0.3, 0.0, 0.1, -0.05, 0.25, 0.1, 0.2, 0.0, 0.15],
    [0.1, 0.2, 0.05, 0.3, 0.15, 0.25, 0.4, 0.2, 0.35, 0.5, 0.3, 0.6, 0.45, 0.7, 0.55, 0.9, 1.0, 1.45,
     1.1, 0.8, 0.6, 0.35],
    [0.2, 0.0, -0.3, 0.1, -0.15, 0.25, 0.05, -0.1, 0.15, 0.3, 0.0, 0.2, -0.05, 0.1, 0.25, 0.15],
    [0.2, 0.35, 0.15, 0.3, 0.5, 0.25, 0.45, 0.6, 0.4, 0.7, 0.55, 0.65, 0.8, 0.9, 1.15, 1.0, 0.75, 0.5,
     0.3, 0.15],
    [0.1, -0.15, 0.0, -0.3, 0.05, 0.2, -0.1, 0.1, 0.25, 0.0, 0.15, 0.3, 0.1, 0.2],
    [0.15, 0.3, 0.2, 0.1, 0.35, 0.25, 0.45, 0.2, 0.4, 0.6, 0.5, 0.75, 0.9, 0.8, 1.35, 1.0, 0.85, 0.6,
     0.4, 0.2],
    [0.1, -0.1, 0.0, -0.35, -0.2, 0.05, -0.15, 0.15, 0.0, 0.2, -0.05, 0.1, 0.25, 0.15],
    [0.2, 0.35, 0.1, 0.3, 0.2, 0.4, 0.25, 0.5, 0.3, 0.6, 0.45, 0.7, 0.8, 1.4, 1.5, 0.75, 0.6, 0.4,
     0.25, 0.1],
    [0.0, -0.25, 0.1, -0.45, -0.1, 0.15, -0.3, 0.05, 0.2, -0.05, 0.1, 0.0, 0.25, 0.1, 0.3, 0.15],
    [0.2, 0.35, 0.25, 0.45, 0.3, 0.5, 0.4, 0.6, 0.55, 0.7, 0.65, 0.8, 0.75, 0.9, 1.0, 0.85, 0.95, 0.7,
     1.0, 0.6, 0.4, 0.2],
    [0.1, -0.2, 0.05, -0.45, 0.0, 0.2, -0.1, 0.15, 0.3, 0.05, 0.25, 0.1, 0.35, 0.2],
    [0.2, 0.35, 0.15, 0.4, 0.3, 0.5, 0.25, 0.45, 0.6, 0.4, 0.7, 0.9, 1.4, 1.0, 0.8, 1.2, 0.6, 0.5, 0.3,
     0.4, 0.15, 0.0, -0.1, 0.05],
    [0.1, -0.1, 0.25, 0.05, 0.4, 0.2, 0.45, 0.3, 0.5, 0.35, 0.25, 0.55, 0.4, 0.6, 0.45, 0.35, 0.65, 0.5,
     0.7, 0.55, 0.8, 0.65, 0.75, 0.9, 1.0, 0.85, 1.05, 0.7, 0.9, 0.55],
    [0.3, 0.1, 0.35, 0.2, 0.45, 0.15, 0.3, 0.25, 0.4, 0.2, 0.35, 0.1, 0.3, 0.45, 0.25, 0.35, 0.2, 0.5,
     0.3, 0.15, 0.4, 0.25, 0.35, 0.6, 0.3, 0.45, 0.2, 0.35],
    [0.3, 0.15, 0.45, 0.3, 0.55, 0.4, 0.35, 0.6, 0.5, 0.45, 0.7, 0.6, 0.85, 0.65, 1.0, 0.75, 0.9, 0.5],
    [0.3, 0.1, 0.35, 0.2, 0.4, 0.25, 0.55, 0.35, 0.45, 0.3, 0.6, 0.4, 0.5, 0.75, 0.55, 0.85, 0.65, 0.4],
    [0.2, 0.05, 0.3, 0.15, 0.35, 0.2, 0.4, 0.25, 0.45, 0.3, 0.5, 0.35, 0.55, 0.4, 0.8, 0.65, 0.5, 0.35],
    [0.25, 0.4, 0.15, 0.35, 0.3, 0.45, 0.25, 0.5, 0.4, 0.6, 0.35, 0.5, 0.3, 0.45, 0.2, 0.35, 0.1],
]

# (е) Дюмон-Дюрвиль
ddu_start = [2004.68, 2005.6, 2006.65, 2007.62, 2008.6, 2009.62, 2010.62, 2011.62, 2012.65, 2013.62,
             2014.62, 2015.5, 2016.62, 2017.62, 2018.62, 2019.6, 2020.62]
ddu_end = [2005.3, 2006.3, 2007.3, 2008.3, 2009.3, 2010.3, 2011.3, 2012.3, 2013.3, 2014.3,
           2015.3, 2016.25, 2017.3, 2018.3, 2019.3, 2020.3, 2021.0]
ddu_vals = [
    [2.75, 1.8, 1.6, 2.2, 1.4, 1.75, 1.0, 0.6, 0.2, -0.1, -0.4, -0.6, -0.3, -0.8, -1.2, -0.5, -0.9, -0.4,
     -0.7, -0.2, 0.1, 0.4, 0.7, 0.5, 0.9, 1.05, 0.6, 0.8, 1.0, 0.5, 0.7, 0.9, 0.6, 0.4, 0.75, 0.5],
    [1.2, 1.5, 1.0, 1.85, 1.9, 1.3, 1.6, 1.1, 0.8, 0.4, 0.1, -0.3, -0.5, -0.8, -1.0, -0.6, -0.9, -0.4,
     -0.7, -0.3, 0.0, 0.2, 0.6, 0.4, 0.8, 1.0, 0.5, 0.7, 0.3, 0.9, 0.6, 0.5],
    [0.9, 1.5, 2.2, 2.05, 1.2, 0.6, 1.0, 0.2, 0.5, -0.2, 0.0, -0.5, -0.3, -0.8, -0.6, -1.0, -0.4, -0.7,
     -0.2, 0.1, 0.3, 0.5, 0.2, 0.6, 0.4, 0.8, 1.2, 0.5, 0.7, 0.4],
    [1.0, 1.3, 0.8, 1.7, 1.85, 2.55, 1.2, 0.9, 0.5, 0.2, -0.2, -0.5, -0.8, -1.25, -0.6, -1.0, -0.4, -0.7,
     -0.3, 0.0, 0.3, 0.5, 0.2, 0.6, 0.8, 0.4, 0.7, 0.5, 0.6, 0.35],
    [0.2, 0.5, 0.9, 0.7, 1.2, 1.5, 1.6, 1.0, 1.3, 0.6, 0.3, -0.2, -0.5, -0.9, -0.6, -0.3, -0.7, 0.0,
     -0.2, 0.3, 0.5, 0.2, 0.6, 0.9, 0.4, 1.0, 0.6, 0.3],
    [0.6, 1.0, 1.3, 0.8, 2.15, 1.2, 0.9, 0.5, 0.7, 0.2, 0.4, -0.1, -0.3, -0.6, -0.8, -1.0, -0.5, -0.7,
     0.0, 0.3, 0.6, 0.4, 0.9, 1.3, 0.7, 1.1, 0.5, 0.8],
    [0.5, 0.9, 1.4, 1.0, 2.05, 1.6, 0.7, 0.3, -0.2, -0.5, -0.8, -1.6, -0.9, -0.6, -1.0, -0.4, -0.7, 0.0,
     0.3, 0.6, 0.4, 1.0, 0.7, 0.5, 0.8, 0.4],
    [0.5, 1.0, 0.7, 1.8, 1.85, 1.2, 0.4, 0.0, -0.4, -0.7, -1.0, -0.5, -0.8, -0.3, -0.6, 0.0, 0.3, -0.2,
     0.5, 0.2, 0.6, 1.35, 0.4, 0.6, 0.3, 0.5],
    [0.6, 0.9, 1.1, 1.9, 1.5, 2.05, 1.0, 0.8, 0.4, 0.0, -0.3, -0.6, -0.4, -0.8, -1.1, -0.7, -0.5, -0.9,
     -0.3, 0.0, 0.4, 0.7, 0.5, 1.0, 0.6, 0.8, 0.4, 0.6],
    [0.8, 1.3, 1.0, 1.7, 2.25, 1.8, 1.4, 1.0, 0.6, 0.2, 0.0, -0.3, -0.6, -0.4, -0.8, -1.0, -0.6, -0.9,
     -0.3, 0.1, 0.4, 0.7, 0.5, 0.9, 0.6, 1.0, 0.4, 0.7],
    [1.0, 1.4, 1.7, 2.4, 1.6, 1.2, 1.5, 0.8, 0.5, 0.1, -0.2, -0.5, -0.3, -0.8, -1.35, -0.6, -1.0, -0.4,
     -0.7, 0.0, 0.3, 0.6, 0.4, 0.9, 1.0, 0.6, 0.8, 0.5],
    [0.3, 0.6, 0.0, 0.9, 0.4, 1.05, 0.2, -0.3, -0.6, -1.0, -1.5, -0.8, -1.2, -0.5, -0.9, -0.3, 0.0, -0.2,
     0.4, 0.7, 1.3, 0.5, 0.9, 0.6, 0.3, 0.7],
    [0.5, 0.9, 1.3, 0.7, 1.5, 1.6, 2.15, 1.2, 0.8, 0.5, 0.2, -0.1, -0.4, -0.2, -0.6, -0.8, -1.15, -0.7,
     -0.9, -0.4, 0.0, 0.4, 0.7, 0.5, 1.0, 0.6, 0.8, 0.4],
    [0.8, 1.2, 1.6, 1.3, 2.2, 2.75, 1.5, 1.0, 1.4, 0.9, 0.5, 0.2, -0.2, -0.5, -0.8, -0.6, -1.3, -0.9,
     -0.5, -0.7, -0.2, 0.1, 0.3, 0.6, 0.4, 1.1, 0.7, 0.5, 0.8, 0.3],
    [0.2, 0.6, 1.0, 1.5, 1.3, 2.25, 1.8, 0.9, 0.5, 0.1, -0.3, -0.6, -0.5, -0.8, -0.9, -0.6, -0.7, -0.3,
     0.0, 0.3, 0.6, 0.4, 0.9, 1.3, 0.5, 0.7, 0.4, 0.6],
    [0.7, 1.2, 1.5, 1.85, 1.7, 1.0, 1.3, 0.8, 0.9, 0.6, 0.3, 0.0, -0.3, -0.5, -0.2, -0.6, -0.8, -1.0,
     -1.2, -0.7, -0.4, 0.1, 0.6, 0.4, 0.8, 0.6, 0.7, 0.5],
    [0.5, 1.4, 1.0, 0.8, 1.2, 0.4, 0.6, 0.0, 0.3, -0.2, -0.5, -0.3, -0.8, -0.6, -1.1, -0.9, -1.4, -1.9],
]

titles = ['(а) Скорсбисунн', '(б) Соданкюля', '(в) От-Прованс',
          '(г) Реюньон', '(д) Кергелен', '(е) Дюмон-Дюрвиль']
starts = [sco_start, sod_start, ohp_start, reu_start, ker_start, ddu_start]
ends = [sco_end, sod_end, ohp_end, reu_end, ker_end, ddu_end]
values = [sco_vals, sod_vals, ohp_vals, reu_vals, ker_vals, ddu_vals]
ylims = [(-2, 1), (-1.6, 0.8), (-1.2, 0.8), (-0.8, 0.8), (-1, 2), (-2, 3)]
yticks = [[-2, -1, 0, 1], [-1.6, -0.8, 0, 0.8], [-0.8, 0, 0.8],
          [-0.8, 0, 0.8], [-1, 0, 1, 2], [-2, 0, 2]]
zero_level = [0, 0, 0, 0, 0, -0.07]
xticks = [2004, 2008, 2012, 2016, 2020]

# положение осей в пикселях (верх, низ)
W, H = 906, 1575
ax_px = [(47, 181), (321, 457), (583, 719), (848, 984), (1117, 1251), (1378, 1517)]
title_px = [26, 288, 560, 826, 1094, 1361]
left_px = 126

point_color = '#561818'
text_color = '#1e1e1e'


def fmt(v):
    return ('%g' % v).replace('-', '\u2212')


fig = plt.figure(figsize=(W / 100, H / 100), dpi=100)

for i in range(6):
    top, bot = ax_px[i]
    ax = fig.add_axes([left_px / W, 1 - bot / H, 1 - left_px / W, (bot - top) / H])
    for t0, t1, v in zip(starts[i], ends[i], values[i]):
        t = np.linspace(t0, t1, len(v))
        ax.scatter(t, v, s=9, color=point_color, linewidths=0, zorder=2)
    ax.plot([2004.65, 2021], [zero_level[i], zero_level[i]], color='#111111',
            lw=1.6, dashes=(8, 4.3), zorder=3)
    ax.set_xlim(2004, 2021)
    ax.set_ylim(*ylims[i])
    ax.set_xticks(xticks)
    ax.set_xticklabels([str(x) for x in xticks])
    ax.set_yticks(yticks[i])
    ax.set_yticklabels([fmt(v) for v in yticks[i]])
    for side in ['top', 'right']:
        ax.spines[side].set_visible(False)
    for side in ['left', 'bottom']:
        ax.spines[side].set_linewidth(1.0)
        ax.spines[side].set_color('#333333')
    ax.tick_params(direction='in', length=5, width=1.0, color='#333333',
                   labelsize=18, labelcolor=text_color)
    ax.tick_params(axis='x', pad=10)
    ax.tick_params(axis='y', pad=8)

    fig.text(142 / W, 1 - title_px[i] / H, titles[i], fontsize=19.5,
             ha='left', va='center', color=text_color)
    fig.text(31 / W, 1 - (top + bot) / 2 / H, r'ΔNO$_2$, 10$^{15}$ см$^{-2}$',
             fontsize=18.5, rotation=90, ha='center', va='center', color=text_color)

fig.text(507 / W, 1 - 1561 / H, 'Год', fontsize=19, ha='center', va='center', color=text_color)

fig.savefig('out.png', dpi=100)
